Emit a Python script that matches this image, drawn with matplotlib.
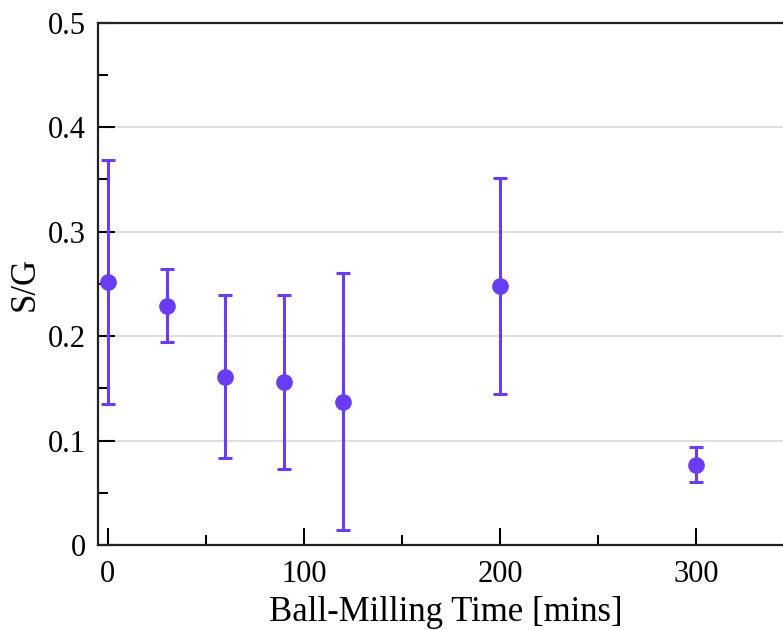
import matplotlib.pyplot as plt
from matplotlib.ticker import MultipleLocator

# ball-milling time [mins] and S/G ratio with error
time = [0, 30, 60, 90, 120, 200, 300]
sg = [0.252, 0.229, 0.161, 0.156, 0.137, 0.248, 0.077]
err = [0.117, 0.035, 0.078, 0.083, 0.123, 0.103, 0.017]

plt.rcParams['font.family'] = ['Liberation Serif', 'DejaVu Serif']

fig = plt.figure(figsize=(7.83, 6.3), dpi=100)
# right part of the axes runs past the figure edge, as in the source
ax = fig.add_axes([0.1252, 0.1349, 0.889, 0.829])

ax.errorbar(time, sg, yerr=err, fmt='o', color='#6a3df5', ecolor='#6a3df5',
            markersize=11, elinewidth=2.2, capsize=5.2, capthick=2.2, zorder=3)

ax.set_xlim(-5, 350)
ax.set_ylim(0, 0.5)
ax.xaxis.set_major_locator(MultipleLocator(100))
ax.xaxis.set_minor_locator(MultipleLocator(50))
ax.yaxis.set_major_locator(MultipleLocator(0.1))
ax.yaxis.set_minor_locator(MultipleLocator(0.05))
ax.set_yticks([0, 0.1, 0.2, 0.3, 0.4, 0.5])
ax.set_yticklabels(['0', '0.1', '0.2', '0.3', '0.4', '0.5'])

ax.tick_params(which='major', direction='in', length=12, width=1.5, labelsize=22)
ax.tick_params(axis='x', which='major', pad=11)
ax.tick_params(axis='y', which='major', pad=9)
ax.tick_params(which='minor', direction='in', length=7, width=1.5)
ax.grid(axis='y', color='#d9d9d9', linewidth=1.2, zorder=0)
ax.set_axisbelow(True)

for s in ['left', 'bottom', 'top']:
    ax.spines[s].set_linewidth(1.6)
    ax.spines[s].set_color('#222222')
ax.spines['right'].set_visible(False)

ax.set_xlabel('Ball-Milling Time [mins]', fontsize=25, labelpad=5)
ax.set_ylabel('S/G', fontsize=25, labelpad=4)

plt.savefig('out.png', dpi=100)
